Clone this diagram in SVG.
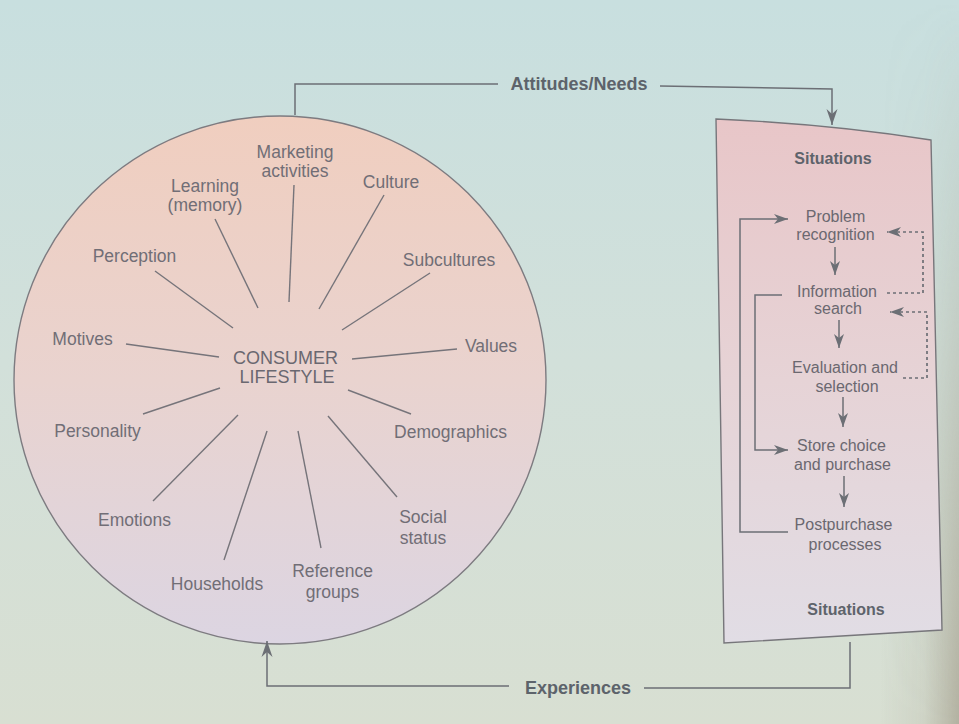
<svg xmlns="http://www.w3.org/2000/svg" width="959" height="724" viewBox="0 0 959 724">
<defs>
<linearGradient id="bg" x1="0" y1="0" x2="0" y2="1">
<stop offset="0" stop-color="#c8dfdf"/>
<stop offset="0.5" stop-color="#d2e0da"/>
<stop offset="1" stop-color="#d8dfd2"/>
</linearGradient>
<linearGradient id="shade" x1="0" y1="0" x2="1" y2="0">
<stop offset="0" stop-color="#8e8470" stop-opacity="0"/>
<stop offset="0.55" stop-color="#8e8470" stop-opacity="0.12"/>
<stop offset="1" stop-color="#8e8470" stop-opacity="0.5"/>
</linearGradient>
<linearGradient id="fadeV" x1="0" y1="0" x2="0" y2="1">
<stop offset="0" stop-color="#fff" stop-opacity="0"/>
<stop offset="0.45" stop-color="#fff" stop-opacity="0.4"/>
<stop offset="1" stop-color="#fff" stop-opacity="1"/>
</linearGradient>
<mask id="shadeMask" maskUnits="userSpaceOnUse" x="880" y="0" width="79" height="724">
<rect x="880" y="0" width="79" height="724" fill="url(#fadeV)"/>
</mask>
<linearGradient id="cir" x1="0" y1="0" x2="0" y2="1">
<stop offset="0" stop-color="#f0cebf"/>
<stop offset="0.5" stop-color="#e9d3cf"/>
<stop offset="1" stop-color="#dcd5e2"/>
</linearGradient>
<linearGradient id="box" x1="0" y1="0" x2="0" y2="1">
<stop offset="0" stop-color="#e8c6c8"/>
<stop offset="0.5" stop-color="#e6d3d6"/>
<stop offset="1" stop-color="#e1dde5"/>
</linearGradient>
<marker id="ah" viewBox="-17 -6 18 12" refX="0" refY="0" markerWidth="18" markerHeight="12" orient="auto" markerUnits="userSpaceOnUse">
<path d="M0,0 L-16,-5.5 L-11,0 L-16,5.5 Z" fill="#6c6f75"/>
</marker>
<marker id="ahs" viewBox="-15 -6 16 12" refX="0" refY="0" markerWidth="16" markerHeight="12" orient="auto" markerUnits="userSpaceOnUse">
<path d="M0,0 L-14,-5 L-10,0 L-14,5 Z" fill="#6c6f75"/>
</marker>
</defs>
<style>
.lbl{font-family:"Liberation Sans",Arial,sans-serif;font-size:17.5px;fill:#716e76;text-anchor:middle}
.ctr{font-family:"Liberation Sans",Arial,sans-serif;font-size:18px;fill:#6a6870;text-anchor:middle}
.blbl{font-family:"Liberation Sans",Arial,sans-serif;font-size:16px;fill:#6b6870;text-anchor:middle}
.bold{font-family:"Liberation Sans",Arial,sans-serif;font-size:16px;font-weight:bold;fill:#5e636b;text-anchor:middle}
.conlbl{font-family:"Liberation Sans",Arial,sans-serif;font-size:18px;font-weight:bold;fill:#5d636b;text-anchor:middle}
.spoke{stroke:#76747a;stroke-width:1.4;fill:none}
.conn{stroke:#6c6f75;stroke-width:1.5;fill:none}
.dot{stroke:#6c6f75;stroke-width:1.7;fill:none;stroke-dasharray:3 3}
</style>
<rect width="959" height="724" fill="url(#bg)"/>
<rect x="880" y="0" width="79" height="724" fill="url(#shade)" mask="url(#shadeMask)"/>

<g id="lifestyle">
<ellipse cx="280" cy="380" rx="266" ry="264" fill="url(#cir)" stroke="#7d7b80" stroke-width="1.4"/>
<text class="ctr" x="285.5" y="364">CONSUMER</text>
<text class="ctr" x="287" y="383">LIFESTYLE</text>
</g>
<g id="marketing"><text class="lbl" x="295" y="158">Marketing</text><text class="lbl" x="295" y="177">activities</text><line class="spoke" x1="294" y1="185" x2="289" y2="302"/></g>
<g id="learning"><text class="lbl" x="205" y="192">Learning</text><text class="lbl" x="205" y="211">(memory)</text><line class="spoke" x1="215" y1="219" x2="258" y2="308"/></g>
<g id="culture"><text class="lbl" x="391" y="188">Culture</text><line class="spoke" x1="384" y1="195" x2="319" y2="309"/></g>
<g id="perception"><text class="lbl" x="134.5" y="262">Perception</text><line class="spoke" x1="155" y1="271" x2="233" y2="328"/></g>
<g id="subcultures"><text class="lbl" x="449" y="266">Subcultures</text><line class="spoke" x1="430" y1="273" x2="342" y2="330"/></g>
<g id="motives"><text class="lbl" x="82.5" y="345">Motives</text><line class="spoke" x1="126" y1="344" x2="219" y2="357"/></g>
<g id="values"><text class="lbl" x="491" y="352">Values</text><line class="spoke" x1="457" y1="349" x2="352" y2="359"/></g>
<g id="personality"><text class="lbl" x="97.5" y="437">Personality</text><line class="spoke" x1="220" y1="388" x2="143" y2="414"/></g>
<g id="demographics"><text class="lbl" x="450.5" y="438">Demographics</text><line class="spoke" x1="348" y1="390" x2="411" y2="414"/></g>
<g id="emotions"><text class="lbl" x="134.5" y="526">Emotions</text><line class="spoke" x1="238" y1="415" x2="153" y2="501"/></g>
<g id="social"><text class="lbl" x="423" y="523">Social</text><text class="lbl" x="423" y="544">status</text><line class="spoke" x1="328" y1="416" x2="397" y2="497"/></g>
<g id="households"><text class="lbl" x="217" y="590">Households</text><line class="spoke" x1="267" y1="431" x2="224" y2="560"/></g>
<g id="reference"><text class="lbl" x="332.5" y="577">Reference</text><text class="lbl" x="332.5" y="598">groups</text><line class="spoke" x1="298" y1="431" x2="321" y2="548"/></g>

<g id="situations-box">
<path d="M716,119 Q830,124 931,140 L942,630 L724,643 Z" fill="url(#box)" stroke="#77767b" stroke-width="1.4"/>
<text class="bold" x="833" y="164">Situations</text>
<text class="bold" x="846" y="615">Situations</text>
</g>
<g id="problem"><text class="blbl" x="835.5" y="222">Problem</text><text class="blbl" x="835.5" y="240">recognition</text></g>
<g id="information"><text class="blbl" x="837" y="297">Information</text><text class="blbl" x="838" y="314">search</text></g>
<g id="evaluation"><text class="blbl" x="845" y="373">Evaluation and</text><text class="blbl" x="847" y="392">selection</text></g>
<g id="store"><text class="blbl" x="841.5" y="451">Store choice</text><text class="blbl" x="842.5" y="470">and purchase</text></g>
<g id="postpurchase"><text class="blbl" x="843.5" y="530">Postpurchase</text><text class="blbl" x="845" y="550">processes</text></g>

<g id="connectors">
<path class="conn" d="M295,115 V84 H498"/>
<text class="conlbl" x="579" y="90">Attitudes/Needs</text>
<path class="conn" d="M660,86 L832,89 V125" marker-end="url(#ah)"/>
<path class="conn" d="M850,642 V688 H644"/>
<text class="conlbl" x="578" y="694">Experiences</text>
<path class="conn" d="M509,686 H267 V641" marker-end="url(#ah)"/>
<path class="conn" d="M835,247 V275" marker-end="url(#ahs)"/>
<path class="conn" d="M839,320 V348" marker-end="url(#ahs)"/>
<path class="conn" d="M843,397 V427" marker-end="url(#ahs)"/>
<path class="conn" d="M844,476 V507" marker-end="url(#ahs)"/>
<path class="conn" d="M788,532 H740 V219 H788" marker-end="url(#ahs)"/>
<path class="conn" d="M782,295 H755 V450 H788" marker-end="url(#ahs)"/>
<path class="dot" d="M887,293 H923 V232 H887" marker-end="url(#ahs)"/>
<path class="dot" d="M903,378 H927 V312 H890" marker-end="url(#ahs)"/>
</g>
</svg>
